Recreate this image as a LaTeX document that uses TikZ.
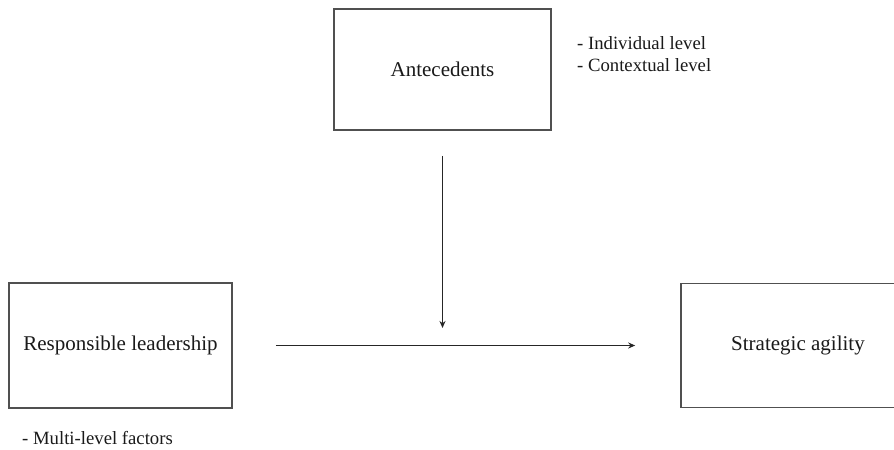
\documentclass[tikz,border=0pt]{standalone}
\usepackage{fontspec}
\setmainfont{Liberation Serif}
\usetikzlibrary{arrows.meta}
\definecolor{linegray}{HTML}{505050}
\definecolor{textgray}{HTML}{1A1A1A}
\tikzset{
  box/.style={draw=linegray, line width=1.6bp, inner sep=0pt, font=\fontsize{21bp}{25bp}\selectfont, text=textgray},
  note/.style={anchor=west, inner sep=0pt, font=\fontsize{18.7bp}{22bp}\selectfont, text=textgray},
  arr/.style={draw=black!85, line width=1.8bp, -{Stealth[length=7bp,width=6bp]}}
}
\begin{document}
\begin{tikzpicture}[x=1bp,y=-1bp]
\useasboundingbox (0,0) rectangle (894,450);
\clip (0,0) rectangle (894,450);
\fill[white] (0,0) rectangle (894,450);
\node[box, minimum width=217bp, minimum height=121bp] (ant) at (442.5,69.5) {Antecedents};
\node[box, minimum width=223bp, minimum height=125bp] (rl) at (120.5,345.5) {Responsible leadership};
\node[box, minimum width=234bp, minimum height=124bp] (sa) at (798,345.5) {Strategic agility};
\node[note] (n1) at (577,43) {- Individual level};
\node[note] (n2) at (577,65) {- Contextual level};
\node[note] (n3) at (22,438) {- Multi-level factors};
\coordinate (vend) at (442.5,328);
\draw[arr, shorten <=43bp, shorten >=45bp] (rl.east) -- (sa.west);
\draw[arr, shorten <=25bp] (ant.south) -- (vend);
\end{tikzpicture}
\end{document}
